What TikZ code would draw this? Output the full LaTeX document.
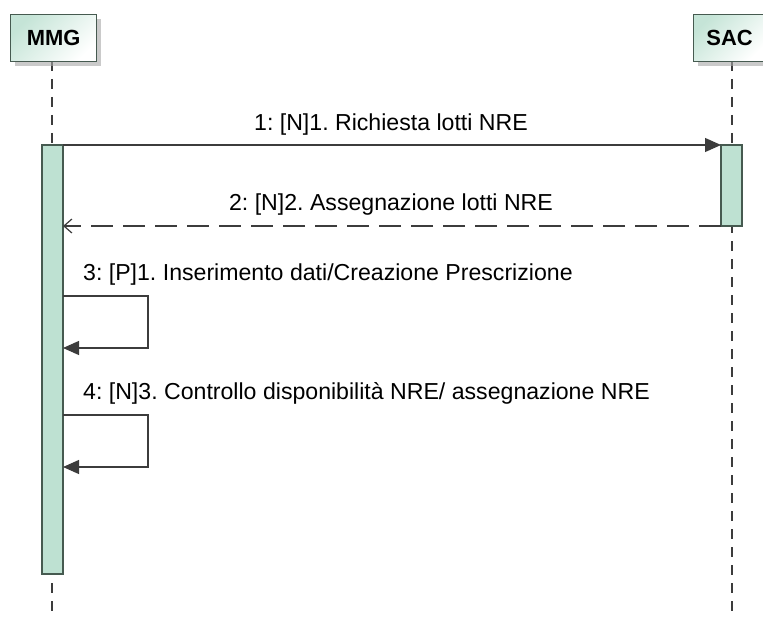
\documentclass[tikz,border=0pt]{standalone}
\usepackage{fontspec}
\setmainfont{Liberation Sans}
\usetikzlibrary{arrows.meta,shadows}
\definecolor{actfill}{RGB}{190,225,210}
\definecolor{edge}{RGB}{70,90,80}
\definecolor{lin}{RGB}{60,60,60}
\tikzset{
  head/.style={draw=edge, line width=1.2bp, left color=actfill!90, right color=white, shading angle=45,
    drop shadow={shadow xshift=4bp, shadow yshift=-4bp, fill=black!35, opacity=.6},
    minimum height=47bp, font=\bfseries\fontsize{22}{26}\selectfont, inner sep=0pt},
  life/.style={draw=lin, line width=1.1bp, dash pattern=on 10bp off 8bp},
  actbox/.style={draw=edge, fill=actfill, line width=1.2bp},
  msg/.style={draw=lin, line width=1.2bp},
  tip/.style={-{Triangle[length=16bp,width=14bp]}},
  lbl/.style={font=\fontsize{23.2}{27}\selectfont, inner sep=0pt}
}
\frenchspacing
\begin{document}
\begin{tikzpicture}[x=1bp,y=-1bp]
\useasboundingbox (0,0) rectangle (763,619);
% lifelines
\coordinate (mtop) at (52,61);
\coordinate (mbot) at (52,619);
\coordinate (stop) at (732,61);
\coordinate (sbot) at (732,619);
\draw[life] (mtop) -- (mbot);
\draw[life] (stop) -- (sbot);
% headers
\node[head, minimum width=86bp, anchor=north west] (mmg) at (10,14) {MMG};
\node[head, minimum width=72bp, anchor=north west] (sac) at (693,14) {SAC};
% activations
\filldraw[actbox] (42,145) rectangle (63,574);
\filldraw[actbox] (721,145) rectangle (742,226);
\coordinate (m1a) at (63,145);
\coordinate (m1b) at (721,145);
\coordinate (m2a) at (721,226);
\coordinate (m2b) at (63,226);
\draw[msg, tip] (m1a) -- (m1b);
\node[lbl] (l1) at (391,125) {1: [N]1. Richiesta lotti NRE};
\draw[msg, dash pattern=on 22bp off 10bp, -{Straight Barb[length=8bp,width=14bp]}] (m2a) -- (m2b);
\node[lbl] (l2) at (391,205) {2: [N]2. Assegnazione lotti NRE};
% self messages
\coordinate (s3a) at (63,296);
\coordinate (s3b) at (63,348);
\draw[msg, tip] (s3a) -- (148,296) -- (148,348) -- (s3b);
\node[lbl, anchor=west] (l3) at (83,275) {3: [P]1. Inserimento dati/Creazione Prescrizione};
\coordinate (s4a) at (63,415);
\coordinate (s4b) at (63,467);
\draw[msg, tip] (s4a) -- (148,415) -- (148,467) -- (s4b);
\node[lbl, anchor=west] (l4) at (83,393) {4: [N]3. Controllo disponibilità NRE/ assegnazione NRE};
\end{tikzpicture}
\end{document}
